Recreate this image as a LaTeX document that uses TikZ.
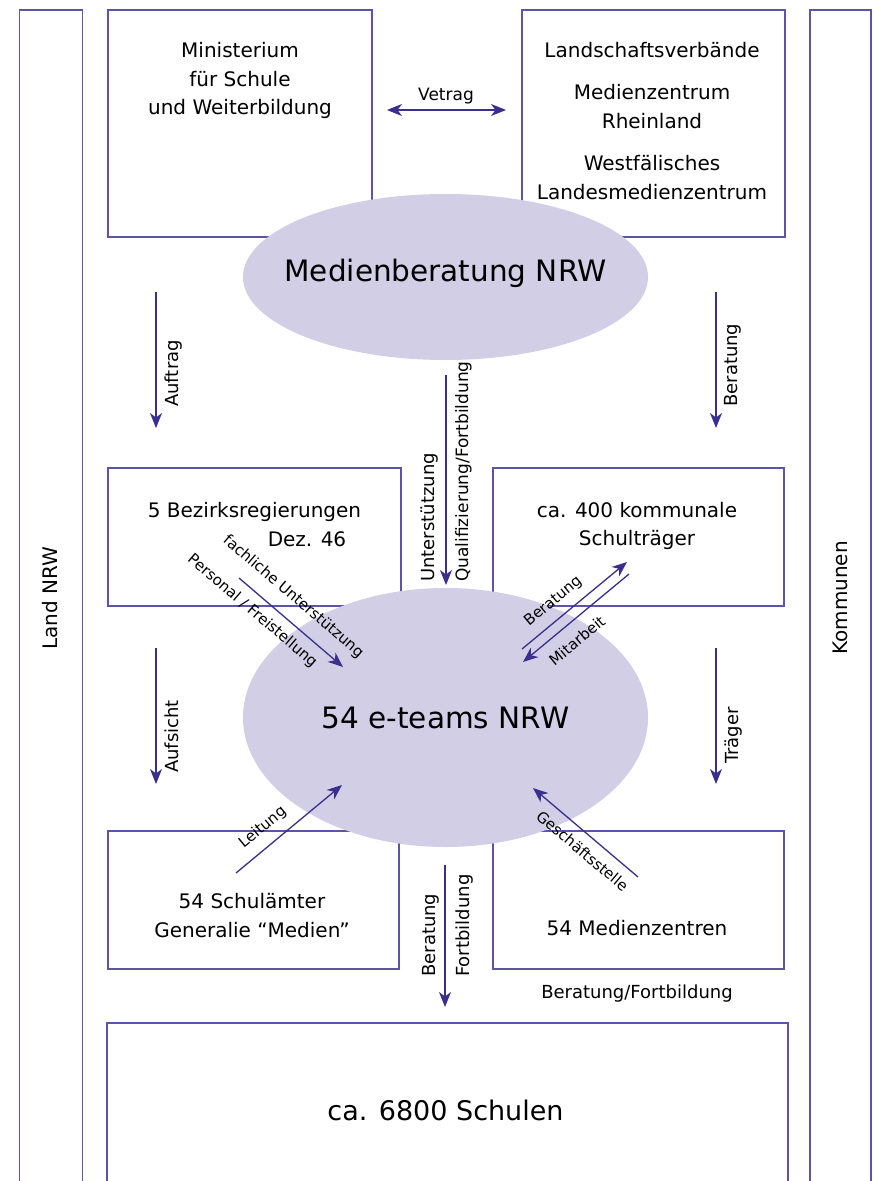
\documentclass[tikz,border=0pt]{standalone}
\usepackage{fontspec}
\setmainfont{DejaVu Sans}
\usetikzlibrary{arrows.meta, shapes.geometric, positioning}
\definecolor{boxline}{HTML}{5E54A6}
\definecolor{arrowblue}{HTML}{3A2F8C}
\definecolor{ellfill}{HTML}{D1CEE5}

\begin{document}
\begin{tikzpicture}[x=1pt, y=-1pt,
  box/.style={draw=boxline, line width=1.5pt, anchor=north west, inner sep=0pt},
  tip/.tip={Stealth[length=15pt, width=12pt, inset=4.5pt]},
  arr/.style={draw=arrowblue, line width=1.3pt, -tip},
  oval/.style={ellipse, fill=ellfill, inner sep=0pt, minimum width=405pt},
  txt/.style={font=\fontsize{20}{28.5}\selectfont, align=center, inner sep=0pt},
  big/.style={font=\fontsize{29.5}{34}\selectfont, inner sep=0pt},
  lbl/.style={font=\fontsize{18}{20}\selectfont, inner sep=0pt},
  dlbl/.style={font=\fontsize{15}{17}\selectfont, inner sep=1pt}]
\useasboundingbox (0,0) rectangle (875,1181);
\clip (0,0) rectangle (875,1181);
\fill[white] (0,0) rectangle (875,1181);

\node[box, minimum width=63pt, minimum height=1200pt] (land) at (18.5,9) {};
\node[box, minimum width=61pt, minimum height=1200pt] (komm) at (809,9) {};
\node[box, minimum width=264pt, minimum height=227pt] (minist) at (107,9) {};
\node[box, minimum width=263pt, minimum height=227pt] (lv) at (521,9) {};
\node[box, minimum width=293pt, minimum height=138pt] (bezreg) at (107,467) {};
\node[box, minimum width=291pt, minimum height=138pt] (traeger) at (492,467) {};
\node[box, minimum width=291pt, minimum height=138pt] (schulamt) at (107,830) {};
\node[box, minimum width=291pt, minimum height=138pt] (mz) at (492,830) {};
\node[box, minimum width=681pt, minimum height=300pt] (schulen) at (106,1022) {};

\node[oval, minimum height=166pt] (medb) at (445.5,277) {};
\node[big, yshift=4pt] (medbText) at (medb) {Medienberatung NRW};
\node[oval, minimum height=259pt, big] (eteams) at (445.5,717.5) {54 e-teams NRW};

\node[txt, rotate=90] (landText) at (50,598) {Land NRW};
\node[txt, rotate=90] (kommText) at (840,598) {Kommunen};
\node[txt] (ministText) at (240,80.5) {Ministerium\\für Schule\\und Weiterbildung};
\node[txt] (lvText) at (652,120.7) {Landschaftsverbände\\[14pt]Medienzentrum\\Rheinland\\[14pt]Westfälisches\\Landesmedienzentrum};
\node[txt] (bezText) at (254.5,511.5) {5 Bezirksregierungen};
\node[txt] (dezText) at (307,539) {Dez. 46};
\node[txt] (traegerText) at (637,526) {ca. 400 kommunale\\Schulträger};
\node[txt] (schulamtText) at (252,915.5) {54 Schulämter\\Generalie “Medien”};
\node[txt] (mzText) at (637,928) {54 Medienzentren};
\node[big, font=\fontsize{27}{30}\selectfont] (schulenText) at (445.5,1110) {ca. 6800 Schulen};
\node[lbl] (bfText) at (637,994) {Beratung/Fortbildung};

\coordinate (vertragA) at (387,110);
\coordinate (vertragB) at (506,110);
\coordinate (auftragA) at (156,292);
\coordinate (auftragB) at (156,428);
\coordinate (beratA) at (716,292);
\coordinate (beratB) at (716,428);
\coordinate (qualiA) at (446,375);
\coordinate (qualiB) at (446,585);
\coordinate (aufsichtA) at (156,648);
\coordinate (aufsichtB) at (156,784);
\coordinate (traegerA) at (716,648);
\coordinate (traegerB) at (716,784);
\coordinate (fortbA) at (445,865);
\coordinate (fortbB) at (445,1007);
\coordinate (fachA) at (239,578);
\coordinate (fachB) at (343,667);
\coordinate (beratDA) at (522,649);
\coordinate (beratDB) at (627,562);
\coordinate (mitarbA) at (629,574);
\coordinate (mitarbB) at (523,662);
\coordinate (leitA) at (236,873);
\coordinate (leitB) at (342,785);
\coordinate (gsA) at (638,877);
\coordinate (gsB) at (533,788);

\draw[arr, tip-tip] (vertragA) -- (vertragB);
\node[lbl, font=\fontsize{17}{19}\selectfont] (vertragText) at (446,96) {Vetrag};
\draw[arr] (auftragA) -- (auftragB);
\node[lbl, rotate=90, anchor=north west] (auftragText) at (165,407) {Auftrag};
\draw[arr] (beratA) -- (beratB);
\node[lbl, rotate=90, anchor=north west] (beratText) at (724,407) {Beratung};
\draw[arr] (qualiA) -- (qualiB);
\node[lbl, rotate=90, anchor=south west] (unterText) at (438,582) {Unterstützung};
\node[lbl, font=\fontsize{17}{19}\selectfont, rotate=90, anchor=north west] (qualiText) at (455,582) {Qualifizierung/Fortbildung};
\draw[arr] (aufsichtA) -- (aufsichtB);
\node[lbl, rotate=90, anchor=north west] (aufsichtText) at (165,773) {Aufsicht};
\draw[arr] (traegerA) -- (traegerB);
\node[lbl, rotate=90, anchor=north west] (traegerLbl) at (725,764) {Träger};
\draw[arr] (fortbA) -- (fortbB);
\node[lbl, rotate=90, anchor=south west] (beratBText) at (439,977) {Beratung};
\node[lbl, rotate=90, anchor=north west] (fortbText) at (456,977) {Fortbildung};

\draw[arr] (fachA) -- node[dlbl, sloped, pos=.39, above=12pt] (fachText) {fachliche Unterstützung}
  node[dlbl, sloped, pos=.23, below=7.5pt] (persText) {Personal / Freistellung} (fachB);
\draw[arr] (beratDA) -- node[dlbl, sloped, pos=.4, above=8pt] (beratDText) {Beratung} (beratDB);
\draw[arr] (mitarbA) -- node[dlbl, sloped, pos=.6, below=10.5pt] (mitarbText) {Mitarbeit} (mitarbB);
\draw[arr] (leitA) -- node[dlbl, sloped, pos=.36, above=9pt] (leitText) {Leitung} (leitB);
\draw[arr] (gsA) -- node[dlbl, sloped, pos=.43, below=8.5pt] (gsText) {Geschäftsstelle} (gsB);

\end{tikzpicture}
\end{document}
